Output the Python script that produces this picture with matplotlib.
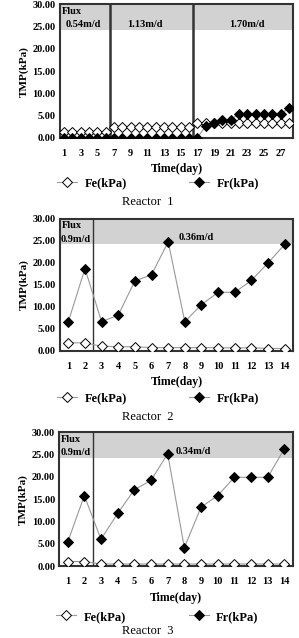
import matplotlib
matplotlib.use("Agg")
from matplotlib import pyplot as plt

# Reactor 1 (28 days)
days1 = list(range(1, 29))
fe1 = [1.2]*6 + [2.4]*10 + [3.4]*12
fr1 = [0.0]*17 + [2.6, 3.4, 4.0, 4.0, 5.4, 5.4, 5.4, 5.4, 5.4, 5.4, 6.6]
xt1 = list(range(1, 28, 2))

# Reactor 2 (14 days)
days2 = list(range(1, 15))
fe2 = [1.8, 1.8, 1.0, 0.9, 0.9, 0.7, 0.7, 0.7, 0.7, 0.7, 0.6, 0.7, 0.5, 0.5]
fr2 = [6.6, 18.7, 6.6, 8.1, 15.9, 17.3, 24.8, 6.6, 10.5, 13.3, 13.3, 16.0, 20.0, 24.2]

# Reactor 3 (14 days)
days3 = list(range(1, 15))
fe3 = [1.0, 1.0, 0.45, 0.45, 0.45, 0.45, 0.45, 0.45, 0.45, 0.45, 0.45, 0.45, 0.45, 0.45]
fr3 = [5.3, 15.8, 6.0, 11.8, 17.1, 19.2, 25.2, 4.1, 13.2, 15.8, 19.9, 19.9, 19.9, 26.3]

yt = [0, 5, 10, 15, 20, 25, 30]
serif = "Liberation Serif"

W, H = 299, 638
fig = plt.figure(figsize=(W/100, H/100), dpi=100)


def px_axes(left, top, right, bottom):
    return fig.add_axes([left/W, 1 - bottom/H, (right-left)/W, (bottom-top)/H])


def panel(ax, days, fe, fr, xticks, vlines, texts, name, leg_y, name_y, vlw):
    n = len(days)
    ax.axhspan(24.3, 30, color="#d2d2d2", zorder=0, lw=0)
    for v in vlines:
        ax.axvline(v, color="#333333", lw=vlw, zorder=1)
    ax.plot(days, fe, color="#999999", lw=0.8, marker="D", ms=5.5,
            mfc="white", mec="black", mew=0.7, label="Fe(kPa)", zorder=3)
    ax.plot(days, fr, color="#999999", lw=0.8, marker="D", ms=5.5,
            mfc="black", mec="black", mew=0.7, label="Fr(kPa)", zorder=3)
    ax.set_xlim(0.5, n + 0.5)
    ax.set_ylim(0, 30)
    ax.set_yticks(yt)
    ax.set_yticklabels(["%.2f" % v for v in yt], fontfamily=serif,
                       fontweight="bold", fontsize=7.5)
    ax.set_xticks(xticks)
    ax.set_xticklabels([str(x) for x in xticks], fontfamily=serif,
                       fontweight="bold", fontsize=7.5)
    ax.tick_params(length=0, pad=3)
    ax.tick_params(axis="x", pad=8)
    ax.set_ylabel("TMP(kPa)", fontfamily=serif, fontweight="bold",
                  fontsize=8, labelpad=3)
    ax.set_xlabel("Time(day)", fontfamily=serif, fontweight="bold",
                  fontsize=8.5, labelpad=4)
    for sp in ax.spines.values():
        sp.set_linewidth(1.5)
        sp.set_color("#333333")
    for x, y, s, ha in texts:
        ax.text(x, y, s, ha=ha, va="center", fontfamily=serif,
                fontweight="bold", fontsize=7.5, zorder=4)
    ax.legend(loc="center", bbox_to_anchor=(0.42, leg_y), ncol=2,
              frameon=False, columnspacing=5.0, handlelength=1.6,
              handletextpad=0.6,
              prop={"family": serif, "weight": "bold", "size": 9})
    fig.text(148/W, 1 - name_y/H, name, ha="center", va="center",
             fontfamily=serif, fontsize=9)


ax1 = px_axes(60, 4.5, 293, 137.7)
panel(ax1, days1, fe1, fr1, xt1, [6.5, 16.5],
      [(0.7, 28.4, "Flux", "left"), (3.3, 25.6, "0.54m/d", "center"),
       (10.7, 25.6, "1.13m/d", "center"), (23.0, 25.6, "1.70m/d", "center")],
      "Reactor  1", -0.34, 202, 1.8)

ax2 = px_axes(60, 219, 293, 350.7)
panel(ax2, days2, fe2, fr2, days2, [2.5],
      [(0.6, 28.6, "Flux", "left"), (0.55, 25.4, "0.9m/d", "left"),
       (7.6, 25.7, "0.36m/d", "left")],
      "Reactor  2", -0.36, 417, 1.0)

ax3 = px_axes(59.3, 432.3, 292.7, 566)
panel(ax3, days3, fe3, fr3, days3, [2.5],
      [(0.6, 28.3, "Flux", "left"), (0.55, 25.4, "0.9m/d", "left"),
       (7.5, 25.6, "0.34m/d", "left")],
      "Reactor  3", -0.38, 631, 1.0)

fig.savefig("out.png", dpi=100)
